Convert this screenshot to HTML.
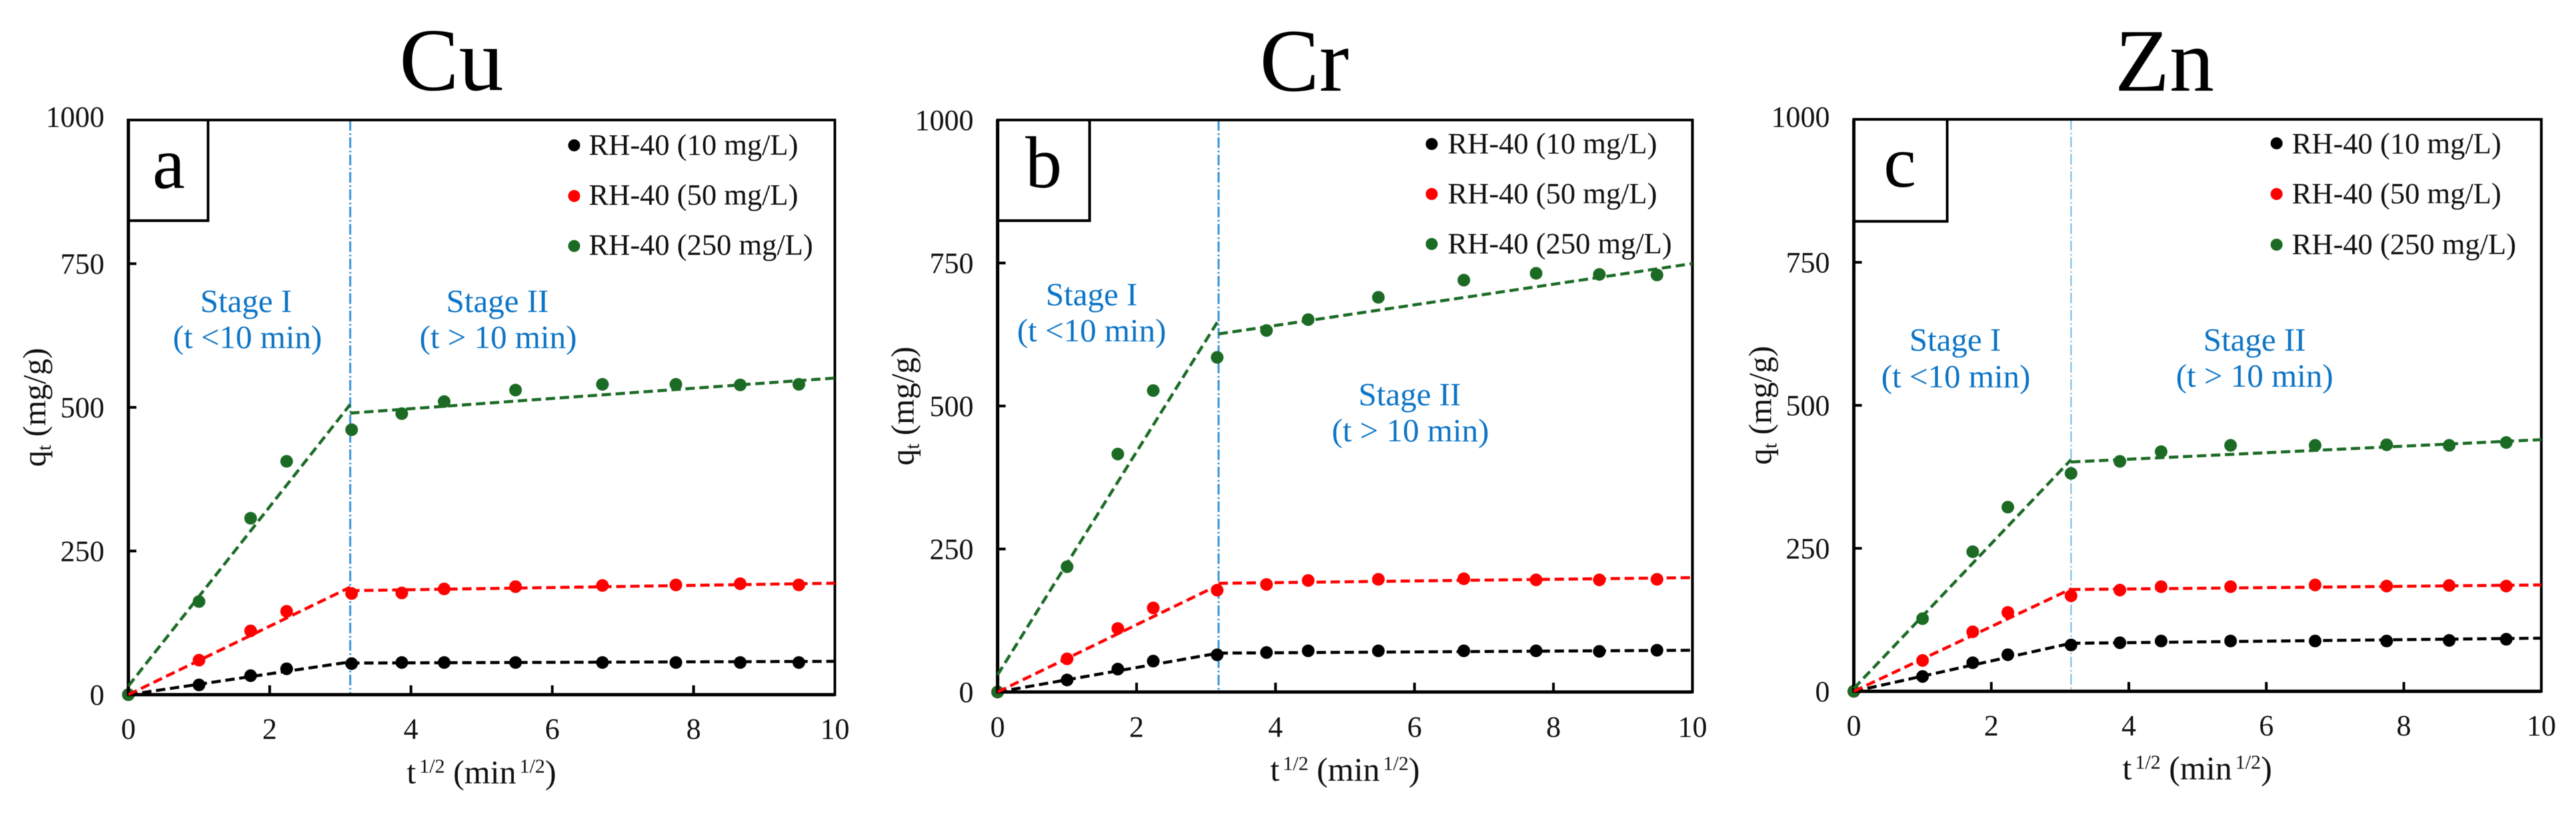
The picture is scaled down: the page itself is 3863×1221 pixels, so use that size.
<!DOCTYPE html>
<html lang="en">
<head>
<meta charset="utf-8">
<title>Intraparticle diffusion plots for Cu, Cr and Zn</title>
<style>
html,body{margin:0;padding:0;background:#fff;}
svg{display:block;width:3863px;height:1221px;font-family:"Liberation Serif",serif;fill:#111;filter:blur(0.6px);}
.stage{fill:#0c74c6;font-size:49px;text-anchor:middle;}
.title{font-size:134px;text-anchor:middle;fill:#000;}
.letter{font-size:110px;text-anchor:middle;fill:#000;}
.leg{font-size:44.5px;}
.axt{font-size:50px;text-anchor:middle;}
.ayt{font-size:49px;text-anchor:middle;}
.tick{font-size:44px;}
</style>
</head>
<body>
<svg id="figure" xmlns="http://www.w3.org/2000/svg" width="3863" height="1221" viewBox="0 0 3863 1221">
  <rect x="0" y="0" width="3863" height="1221" fill="#fff"/>

  <g id="panel-a">
    <text class="title" x="677" y="135">Cu</text>
    <g id="plot-a"></g>
    <rect x="192" y="180" width="120" height="151" fill="none" stroke="#000" stroke-width="4"/>
    <text class="letter" x="253" y="282">a</text>
    <text class="stage" x="369" y="468">Stage I</text>
    <text class="stage" x="371" y="522">(t &lt;10 min)</text>
    <text class="stage" x="746" y="468">Stage II</text>
    <text class="stage" x="747" y="522">(t &gt; 10 min)</text>
    <g>
      <circle cx="861" cy="218" r="9" fill="#000"/>
      <text class="leg" x="883" y="232">RH-40 (10 mg/L)</text>
      <circle cx="861" cy="294" r="9" fill="#ff0000"/>
      <text class="leg" x="883" y="307">RH-40 (50 mg/L)</text>
      <circle cx="861" cy="369" r="9" fill="#1b6b25"/>
      <text class="leg" x="883" y="382">RH-40 (250 mg/L)</text>
    </g>
    <text class="axt" x="722" y="1175">t<tspan font-size="30" dx="5" dy="-16">1/2</tspan><tspan dy="16"> (min</tspan><tspan font-size="30" dx="5" dy="-16">1/2</tspan><tspan dy="16">)</tspan></text>
    <text class="ayt" transform="translate(68 611) rotate(-90)">q<tspan font-size="30" dy="8">t</tspan><tspan dy="-8"> (mg/g)</tspan></text>
  </g>

  <g id="panel-b">
    <text class="title" x="1956" y="136">Cr</text>
    <g id="plot-b"></g>
    <rect x="1496" y="180" width="138" height="151" fill="none" stroke="#000" stroke-width="4"/>
    <text class="letter" x="1565" y="281">b</text>
    <text class="stage" x="1637" y="458">Stage I</text>
    <text class="stage" x="1637" y="512">(t &lt;10 min)</text>
    <text class="stage" x="2114" y="608">Stage II</text>
    <text class="stage" x="2115" y="662">(t &gt; 10 min)</text>
    <g>
      <circle cx="2147" cy="216" r="9" fill="#000"/>
      <text class="leg" x="2171" y="230">RH-40 (10 mg/L)</text>
      <circle cx="2147" cy="291" r="9" fill="#ff0000"/>
      <text class="leg" x="2171" y="305">RH-40 (50 mg/L)</text>
      <circle cx="2147" cy="366" r="9" fill="#1b6b25"/>
      <text class="leg" x="2171" y="380">RH-40 (250 mg/L)</text>
    </g>
    <text class="axt" x="2017" y="1171">t<tspan font-size="30" dx="5" dy="-16">1/2</tspan><tspan dy="16"> (min</tspan><tspan font-size="30" dx="5" dy="-16">1/2</tspan><tspan dy="16">)</tspan></text>
    <text class="ayt" transform="translate(1370 609) rotate(-90)">q<tspan font-size="30" dy="8">t</tspan><tspan dy="-8"> (mg/g)</tspan></text>
  </g>

  <g id="panel-c">
    <text class="title" x="3246" y="136">Zn</text>
    <g id="plot-c"></g>
    <rect x="2780" y="179" width="140" height="153" fill="none" stroke="#000" stroke-width="4"/>
    <text class="letter" x="2849" y="280">c</text>
    <text class="stage" x="2932" y="526">Stage I</text>
    <text class="stage" x="2933" y="581">(t &lt;10 min)</text>
    <text class="stage" x="3381" y="526">Stage II</text>
    <text class="stage" x="3381" y="580">(t &gt; 10 min)</text>
    <g>
      <circle cx="3414" cy="215" r="9" fill="#000"/>
      <text class="leg" x="3437" y="230">RH-40 (10 mg/L)</text>
      <circle cx="3414" cy="291" r="9" fill="#ff0000"/>
      <text class="leg" x="3437" y="305">RH-40 (50 mg/L)</text>
      <circle cx="3414" cy="367" r="9" fill="#1b6b25"/>
      <text class="leg" x="3437" y="381">RH-40 (250 mg/L)</text>
    </g>
    <text class="axt" x="3295" y="1169">t<tspan font-size="30" dx="5" dy="-16">1/2</tspan><tspan dy="16"> (min</tspan><tspan font-size="30" dx="5" dy="-16">1/2</tspan><tspan dy="16">)</tspan></text>
    <text class="ayt" transform="translate(2656 608) rotate(-90)">q<tspan font-size="30" dy="8">t</tspan><tspan dy="-8"> (mg/g)</tspan></text>
  </g>
</svg>

<script>
// Shared axes
const sqrtTime = [0, 1, 1.73, 2.24, 3.16, 3.87, 4.47, 5.48, 6.71, 7.75, 8.66, 9.49];
const xTickLabels = [0, 2, 4, 6, 8, 10];
const yTickLabels = [0, 250, 500, 750, 1000];

// Cu: measured q_t
const cu10 = [0, 17, 33, 45, 54, 56, 56, 56, 56, 56, 56, 56];
const cu50 = [0, 60, 111, 145, 176, 177, 184, 188, 190, 191, 193, 191];
const cu250 = [0, 162, 307, 406, 461, 489, 510, 530, 540, 540, 539, 540];
// Cu: fits [stage 1 at t=0, stage 1 at break, stage 2 at break, stage 2 at x=10]
const cuFit10 = [0, 57, 55, 58];
const cuFit50 = [0, 187, 181, 194];
const cuFit250 = [15, 505, 490, 551];

// Cr: measured q_t
const cr10 = [0, 21, 40, 54, 65, 69, 72, 72, 72, 72, 71, 73];
const cr50 = [0, 58, 111, 147, 178, 188, 195, 197, 198, 196, 196, 197];
const cr250 = [0, 219, 416, 527, 585, 632, 651, 690, 720, 732, 730, 729];
const crFit10 = [0, 68, 68, 73];
const crFit50 = [0, 187, 190, 200];
const crFit250 = [30, 650, 626, 749];

// Zn: measured q_t
const zn10 = [0, 26, 50, 64, 81, 85, 88, 88, 88, 88, 89, 91];
const zn50 = [0, 54, 104, 138, 167, 177, 183, 183, 186, 184, 185, 184];
const zn250 = [0, 127, 244, 322, 381, 402, 419, 430, 430, 431, 430, 435];
const znFit10 = [0, 84, 84, 93];
const znFit50 = [0, 179, 178, 186];
const znFit250 = [5, 405, 401, 440];

// Stage boundary on the x axis, per panel
const stageBreaks = [3.14, 3.18, 3.16];
const seriesColors = ['#000000', '#ff0000', '#1b6b25'];
const concentrations = ['10', '50', '250'];

const NS = 'http://www.w3.org/2000/svg';

function make(parent, tag, attrs) {
  const el = document.createElementNS(NS, tag);
  for (const k in attrs) el.setAttribute(k, attrs[k]);
  parent.appendChild(el);
  return el;
}

function drawPanel(cfg) {
  const root = document.getElementById(cfg.id);
  const xScale = v => cfg.left + (cfg.right - cfg.left) * v / 10;
  const yScale = v => cfg.bottom - (cfg.bottom - cfg.top) * v / 1000;

  // stage divider
  const divider = make(root, 'line', {
    x1: xScale(cfg.stageBreak), x2: xScale(cfg.stageBreak), y1: cfg.top, y2: cfg.bottom,
    stroke: cfg.dividerColor, 'stroke-width': cfg.dividerWidth, 'stroke-dasharray': '16 4 2.5 3.5'
  });
  
  

  // markers
  cfg.measured.forEach((values, s) => {
    values.forEach((v, i) => {
      const dot = make(root, 'circle', {
        cx: xScale(sqrtTime[i]), cy: yScale(v), r: 9.5, fill: seriesColors[s]
      });
      
      
    });
  });

  // frame
  const frame = make(root, 'rect', {
    x: cfg.left, y: cfg.top, width: cfg.right - cfg.left, height: cfg.bottom - cfg.top,
    fill: 'none', stroke: '#000', 'stroke-width': 4
  });
  
  
  const xAxis = make(root, 'line', {
    x1: cfg.left, x2: cfg.right, y1: cfg.bottom, y2: cfg.bottom, stroke: '#000', 'stroke-width': 5
  });
  
  
  const yAxis = make(root, 'line', {
    x1: cfg.left, x2: cfg.left, y1: cfg.top, y2: cfg.bottom, stroke: '#000', 'stroke-width': 5
  });
  
  

  // fit lines
  cfg.fits.forEach((fit, s) => {
    const first = make(root, 'line', {
      x1: xScale(0), y1: yScale(fit[0]), x2: xScale(cfg.stageBreak), y2: yScale(fit[1]),
      stroke: seriesColors[s], 'stroke-width': 4.5, 'stroke-dasharray': '14 7'
    });
    
    
    const second = make(root, 'line', {
      x1: xScale(cfg.stageBreak), y1: yScale(fit[2]), x2: xScale(10), y2: yScale(fit[3]),
      stroke: seriesColors[s], 'stroke-width': 4.5, 'stroke-dasharray': '14 7'
    });
    
    
  });

  // x ticks
  xTickLabels.forEach(v => {
    if (v > 0 && v < 10) {
      const t = make(root, 'line', {
        x1: xScale(v), x2: xScale(v), y1: cfg.bottom, y2: cfg.bottom - 14, stroke: '#000', 'stroke-width': 4
      });
      
      
    }
    const label = make(root, 'text', {
      class: 'tick', x: xScale(v), y: cfg.xLabelY, 'text-anchor': 'middle'
    });
    label.textContent = v;
    
    
  });

  // y ticks
  yTickLabels.forEach(v => {
    if (v > 0 && v < 1000) {
      const t = make(root, 'line', {
        x1: cfg.left, x2: cfg.left + 12, y1: yScale(v), y2: yScale(v), stroke: '#000', 'stroke-width': 4
      });
      
      
    }
    const label = make(root, 'text', {
      class: 'tick', x: cfg.left - 36, y: yScale(v) + 15 + (v === 1000 ? cfg.topLabelShift : 0), 'text-anchor': 'end'
    });
    label.textContent = v;
    
    
  });
}

drawPanel({
  id: 'plot-a', key: 'cu', left: 192.5, right: 1252, top: 180, bottom: 1042,
  stageBreak: stageBreaks[0], xLabelY: 1108, topLabelShift: -5,
  dividerColor: '#3a93d4', dividerWidth: 3,
  measured: [cu10, cu50, cu250], fits: [cuFit10, cuFit50, cuFit250]
});
drawPanel({
  id: 'plot-b', key: 'cr', left: 1496, right: 2538, top: 180, bottom: 1038,
  stageBreak: stageBreaks[1], xLabelY: 1105, topLabelShift: 0,
  dividerColor: '#3a93d4', dividerWidth: 3,
  measured: [cr10, cr50, cr250], fits: [crFit10, crFit50, crFit250]
});
drawPanel({
  id: 'plot-c', key: 'zn', left: 2780, right: 3811, top: 179, bottom: 1037,
  stageBreak: stageBreaks[2], xLabelY: 1103, topLabelShift: -4,
  dividerColor: '#74b8e6', dividerWidth: 2,
  measured: [zn10, zn50, zn250], fits: [znFit10, znFit50, znFit250]
});
</script>
</body>
</html>
